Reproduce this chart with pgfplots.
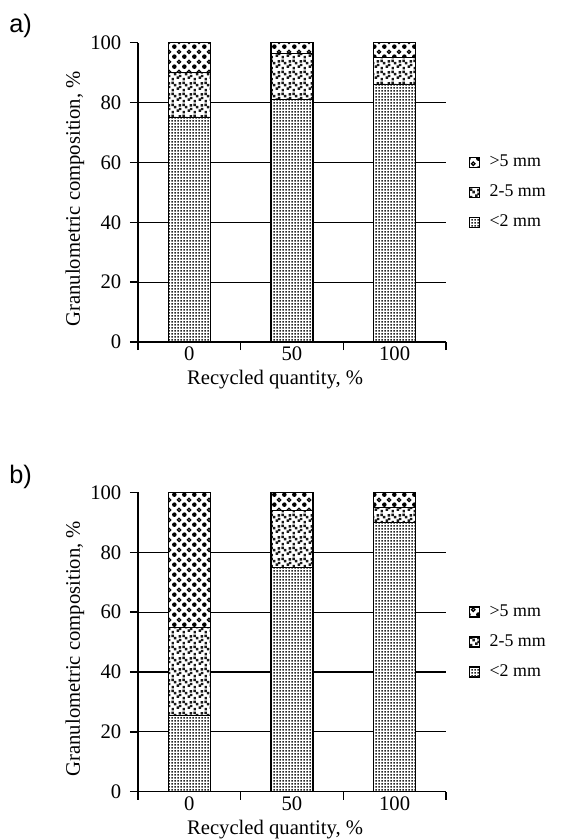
\documentclass[border=0pt]{standalone}
\usepackage{fontspec}
\setmainfont{Liberation Serif}
\newfontfamily\arialfont{Liberation Sans}
\usepackage{pgfplots}
\pgfplotsset{compat=1.18}
\usetikzlibrary{patterns}

\pgfdeclarepatternformonly{finedots}{\pgfqpoint{0pt}{0pt}}{\pgfqpoint{2.25pt}{2.25pt}}{\pgfqpoint{2.25pt}{2.25pt}}{%
  \pgfpathrectangle{\pgfqpoint{0.45pt}{0.45pt}}{\pgfqpoint{1.3pt}{1.3pt}}\pgfusepath{fill}}

\pgfdeclarepatternformonly{sparsesq}{\pgfqpoint{0pt}{0pt}}{\pgfqpoint{8pt}{8pt}}{\pgfqpoint{8pt}{8pt}}{%
  \pgfpathrectangle{\pgfqpoint{0.4pt}{0.5pt}}{\pgfqpoint{1.9pt}{1.9pt}}%
  \pgfpathrectangle{\pgfqpoint{4.4pt}{1.6pt}}{\pgfqpoint{1.9pt}{1.9pt}}%
  \pgfpathrectangle{\pgfqpoint{2.2pt}{4.3pt}}{\pgfqpoint{1.9pt}{1.9pt}}%
  \pgfpathrectangle{\pgfqpoint{5.9pt}{5.7pt}}{\pgfqpoint{1.9pt}{1.9pt}}%
  \pgfpathrectangle{\pgfqpoint{0.3pt}{6.0pt}}{\pgfqpoint{1.9pt}{1.9pt}}%
  \pgfpathrectangle{\pgfqpoint{6.0pt}{2.9pt}}{\pgfqpoint{1.9pt}{1.9pt}}%
  \pgfusepath{fill}}

\pgfdeclarepatternformonly{balls}{\pgfqpoint{0pt}{0pt}}{\pgfqpoint{7.6pt}{7.6pt}}{\pgfqpoint{7.6pt}{7.6pt}}{%
  \pgfpathcircle{\pgfqpoint{1.9pt}{1.9pt}}{1.85pt}\pgfusepath{fill}%
  \pgfsetlinewidth{1.0pt}%
  \pgfpathcircle{\pgfqpoint{5.7pt}{5.7pt}}{1.35pt}\pgfusepath{stroke}}

\pgfplotsset{
  granstyle/.style={
    scale only axis, width=231pt, height=224.5pt,
    ybar stacked, bar width=31.5pt,
    xmin=-0.5, xmax=2.5, ymin=0, ymax=100,
    xtick={-0.5,0.5,1.5,2.5}, xticklabels={},
    extra x ticks={0,1,2}, extra x tick labels={0,50,100},
    extra x tick style={major tick length=0pt},
    ytick={0,20,...,100},
    extra y ticks={20,40,60,80}, extra y tick labels={},
    extra y tick style={ymajorgrids=true, major tick length=0pt},
    axis x line*=bottom, axis y line*=left,
    axis line style={line width=1pt, -},
    tick style={line width=1pt, black},
    major grid style={line width=0.9pt, black},
    tick align=outside, major tick length=6pt,
    /pgf/number format/assume math mode=true,
    tick label style={font=\fontsize{15.5}{18}\selectfont},
    yticklabel style={xshift=-3pt},
    label style={font=\fontsize{15.5}{18}\selectfont},
    xlabel={Recycled quantity, \%},
    ylabel={Granulometric composition, \%},
    xlabel style={at={(axis description cs:0.445,-0.127)}, anchor=center},
    ylabel style={at={(axis description cs:-0.2045,0.478)}, anchor=center},
    reverse legend,
    legend style={at={(1.075,0.5)}, anchor=west, draw=none, fill=none,
      inner sep=0pt, row sep=9pt,
      font=\fontsize{13.4}{15}\selectfont,
      nodes={inner sep=1pt, text height=9pt, text depth=2.5pt}},
    legend cell align=left,
    legend image code/.code={\draw[#1, line width=0.7pt] (0pt,-3.75pt) rectangle (7.5pt,3.75pt);},
    /tikz/every even column/.append style={column sep=0pt},
    /tikz/every odd column/.append style={column sep=6pt},
  },
  fines/.style={preaction={fill=white}, pattern=finedots, pattern color=black!85, draw=black, line width=0.9pt},
  mids/.style={preaction={fill=white}, pattern=sparsesq, pattern color=black!90, draw=black, line width=0.9pt},
  coarse/.style={preaction={fill=white}, pattern=balls, pattern color=black, draw=black, line width=0.9pt},
}

\begin{document}
\begin{tikzpicture}
\path[use as bounding box] (0,0) rectangle (422.25pt,-629.25pt);
\node[anchor=base west, font=\arialfont\fontsize{19}{22}\selectfont, inner sep=0pt] at (6.75pt,-24pt) {a)};
\node[anchor=base west, font=\arialfont\fontsize{19}{22}\selectfont, inner sep=0pt] at (6.75pt,-362.5pt) {b)};

\begin{axis}[granstyle, at={(103.5pt,-256.5pt)}, anchor=south west]
\addplot[fines] coordinates {(0,75) (1,81) (2,86)};
\addplot[mids] coordinates {(0,15) (1,15.5) (2,9)};
\addplot[coarse] coordinates {(0,10) (1,3.5) (2,5)};
\legend{<2 mm, 2-5 mm, >5 mm}
\end{axis}

\begin{axis}[granstyle, at={(103.5pt,-593.8pt)}, anchor=south west]
\addplot[fines] coordinates {(0,25.5) (1,75) (2,90)};
\addplot[mids] coordinates {(0,29.5) (1,19) (2,5)};
\addplot[coarse] coordinates {(0,45) (1,6) (2,5)};
\legend{<2 mm, 2-5 mm, >5 mm}
\end{axis}
\end{tikzpicture}
\end{document}
